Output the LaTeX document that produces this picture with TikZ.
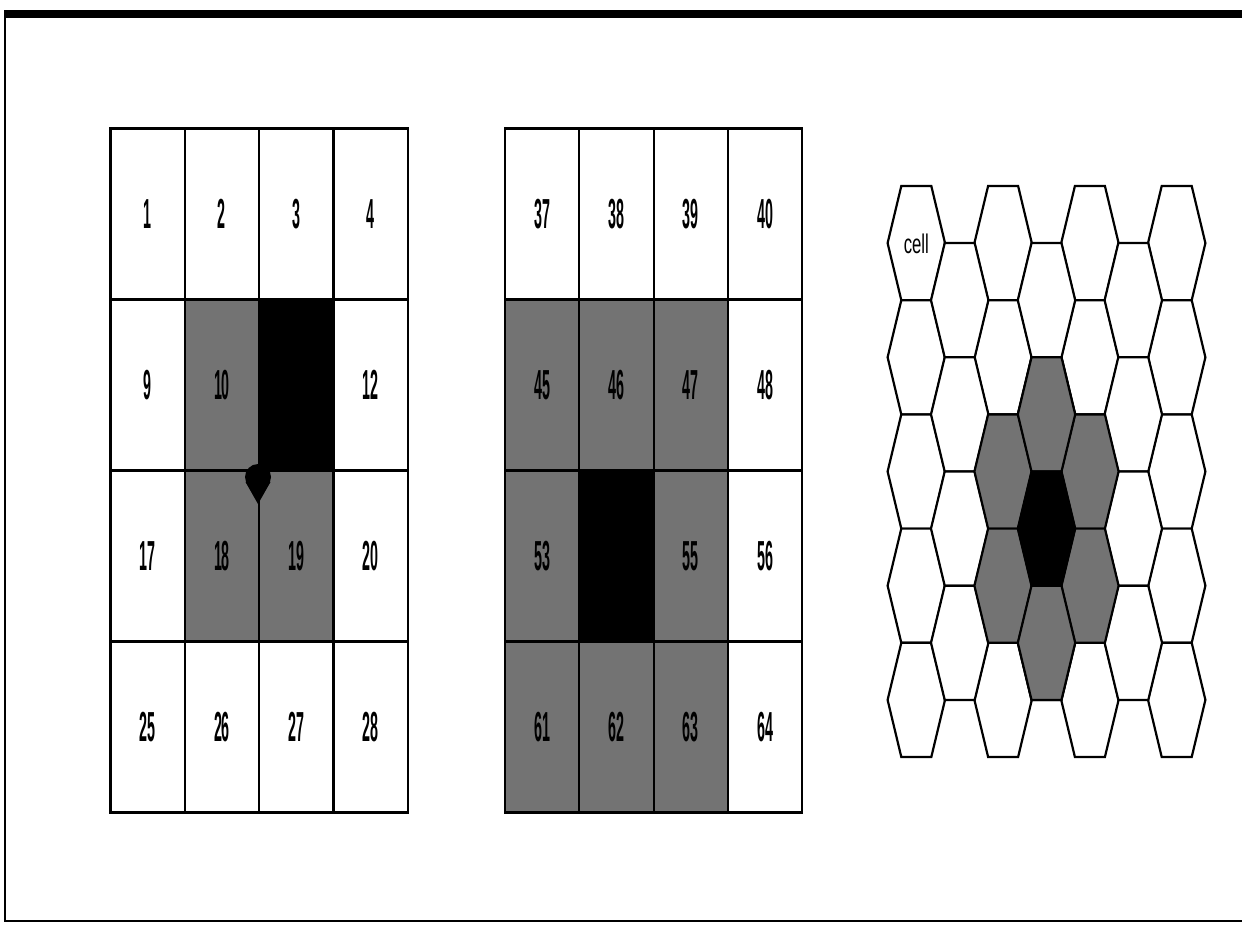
\documentclass[tikz,border=0pt]{standalone}
\usepackage{fontspec}
\setmainfont{Liberation Sans}
\usepackage{graphicx}
\usetikzlibrary{positioning}

\tikzset{
  gridcell/.style={draw=black,line width=2.2pt,outer sep=0pt,inner sep=0pt,
    minimum width=74.3pt,minimum height=171pt,fill=white},
  greycell/.style={gridcell,fill=black!55},
  darkcell/.style={gridcell,fill=black},
  hexcell/.style={draw=black,line width=2.2pt,line join=miter,fill=white},
  hexgrey/.style={hexcell,fill=black!55},
  hexdark/.style={hexcell,fill=black},
}
\newcommand{\cellnum}[1]{\scalebox{0.34}[1]{\fontsize{42}{42}\selectfont\bfseries #1}}
\newcommand{\hexshape}[2]{(#1-28.7,#2) -- (#1-15,#2-57.1) -- (#1+15,#2-57.1)
  -- (#1+28.7,#2) -- (#1+15,#2+57.1) -- (#1-15,#2+57.1) -- cycle}

\begin{document}
\begin{tikzpicture}[x=1pt,y=-1pt]
  \useasboundingbox (0,0) rectangle (1242,925);
  % frame
  \fill[black] (4,10) rectangle (1242,18);
  \draw[line width=1.4pt] (5,14) -- (5,921) -- (1242,921);

  % left grid
  \foreach \txt/\kind [count=\i from 0] in {1/gridcell,2/gridcell,3/gridcell,4/gridcell,
      9/gridcell,10/greycell,/darkcell,12/gridcell,
      17/gridcell,18/greycell,19/greycell,20/gridcell,
      25/gridcell,26/gridcell,27/gridcell,28/gridcell}{
    \pgfmathtruncatemacro\c{mod(\i,4)}
    \pgfmathtruncatemacro\r{int(\i/4)}
    \node[\kind] (left\i) at ({110.5+(\c+0.5)*74.3},{128.5+(\r+0.5)*171}) {\cellnum{\txt}};
  }
  % mobile spot at the corner of 11, 18 and 19
  \fill[black] (258,477) circle (13pt);
  \fill[black] (245.5,482) -- (258,504) -- (270.5,482) -- cycle;

  % right grid
  \foreach \txt/\kind [count=\i from 0] in {37/gridcell,38/gridcell,39/gridcell,40/gridcell,
      45/greycell,46/greycell,47/greycell,48/gridcell,
      53/greycell,/darkcell,55/greycell,56/gridcell,
      61/greycell,62/greycell,63/greycell,64/gridcell}{
    \pgfmathtruncatemacro\c{mod(\i,4)}
    \pgfmathtruncatemacro\r{int(\i/4)}
    \node[\kind] (right\i) at ({505+(\c+0.5)*74.3},{128.5+(\r+0.5)*171}) {\cellnum{\txt}};
  }

  % hexagonal cells
  \foreach \k in {0,2,4,6}
    \foreach \j in {0,...,4}
      \draw[hexcell] \hexshape{916.3+\k*43.4}{243.1+\j*114.2};
  \foreach \k in {1,3,5}
    \foreach \j in {0,...,3}
      \draw[hexcell] \hexshape{916.3+\k*43.4}{300.2+\j*114.2};
  \foreach \k/\j in {2/2,2/3,4/2,4/3}
    \draw[hexgrey] \hexshape{916.3+\k*43.4}{243.1+\j*114.2};
  \foreach \j in {1,3}
    \draw[hexgrey] \hexshape{916.3+3*43.4}{300.2+\j*114.2};
  \draw[hexdark] \hexshape{916.3+3*43.4}{300.2+2*114.2};
  \node (cellname) at (916.3,244) {\scalebox{0.62}[1]{\fontsize{27}{27}\selectfont cell}};
\end{tikzpicture}
\end{document}
